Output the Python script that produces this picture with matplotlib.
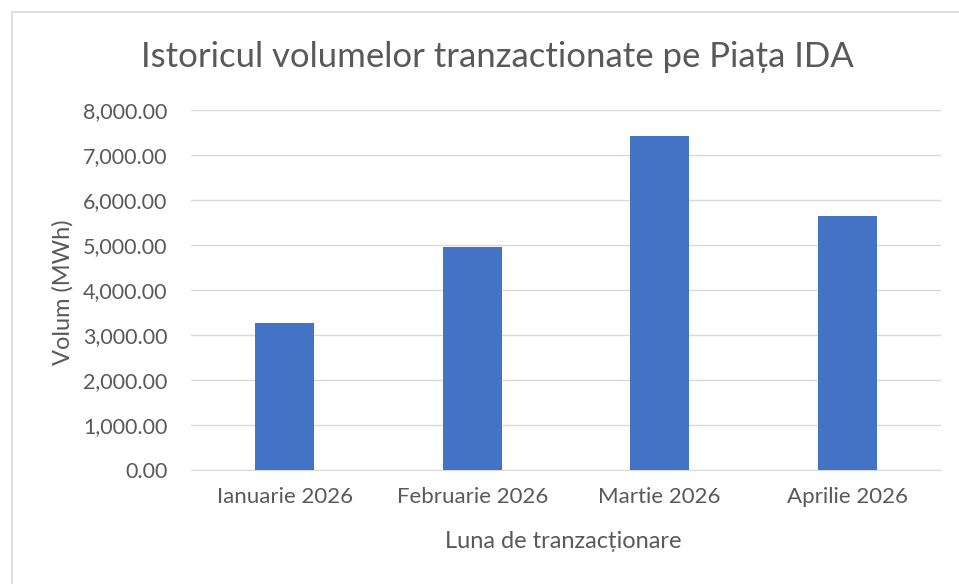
import matplotlib

matplotlib.use("Agg")
import matplotlib.pyplot as plt
from matplotlib.patches import Rectangle
from matplotlib.ticker import FuncFormatter

months = ["Ianuarie 2026", "Februarie 2026", "Martie 2026", "Aprilie 2026"]
volumes = [3260, 4960, 7430, 5650]
y_ticks = [0, 1000, 2000, 3000, 4000, 5000, 6000, 7000, 8000]

TEXT = "#595959"
BAR = "#4472C4"
GRID = "#D9D9D9"

plt.rcParams["font.family"] = ["Lato", "DejaVu Sans"]

W, H = 959, 584
fig = plt.figure(figsize=(W / 100, H / 100), dpi=100)
fig.patch.set_facecolor("white")

# chart border, only top and left edges fall inside the picture
fig.add_artist(Rectangle((12 / W, -0.1), 1.2, 1.1 - 12 / H, transform=fig.transFigure,
                         fill=False, edgecolor="#D9D9D9", linewidth=1.2))

left, right, top, bottom = 191, 941, 110, 470
ax = fig.add_axes([left / W, 1 - bottom / H, (right - left) / W, (bottom - top) / H])

x = range(len(months))
ax.bar(x, volumes, width=0.313, color=BAR, zorder=3)
ax.set_xlim(-0.5, len(months) - 0.5)
ax.set_ylim(0, 8000)
ax.set_yticks(y_ticks)
ax.yaxis.set_major_formatter(FuncFormatter(lambda v, _: f"{v:,.2f}"))
ax.set_xticks(list(x))
ax.set_xticklabels(months)
ax.grid(True, axis="y", color=GRID, linewidth=1, zorder=0)
for side in ("top", "right", "left"):
    ax.spines[side].set_visible(False)
ax.spines["bottom"].set_color(GRID)
ax.tick_params(axis="both", length=0, colors=TEXT)
ax.tick_params(axis="x", pad=12, labelsize=16)
ax.tick_params(axis="y", pad=17, labelsize=15.5)

fig.text(497 / W, 1 - 57 / H, "Istoricul volumelor tranzactionate pe Piața IDA",
         fontsize=25, color=TEXT, ha="center", va="center")
fig.text(563 / W, 1 - 541 / H, "Luna de tranzacționare",
         fontsize=17, color=TEXT, ha="center", va="center")
fig.text(63 / W, 1 - 292 / H, "Volum (MWh)",
         fontsize=17, color=TEXT, ha="center", va="center", rotation=90)

fig.savefig("out.png", dpi=100)
